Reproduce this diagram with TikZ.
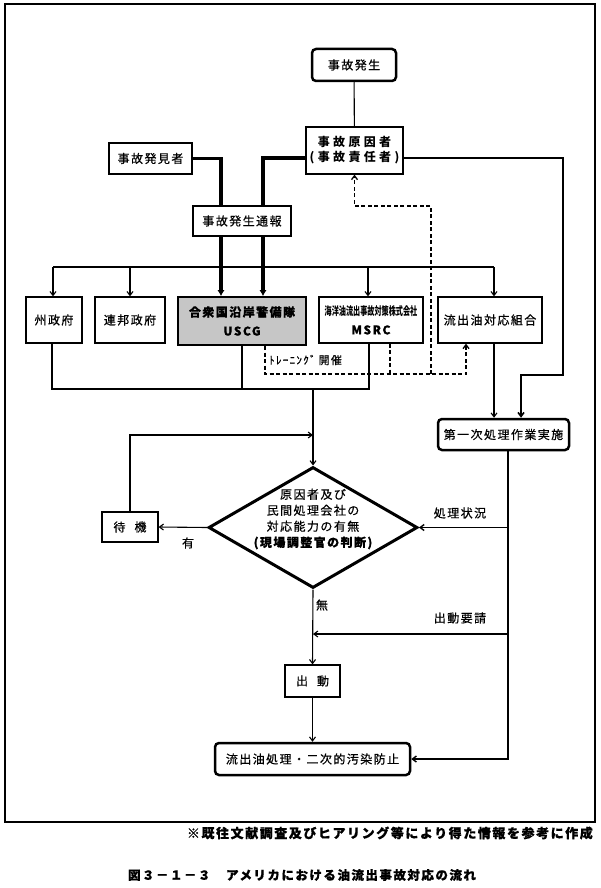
\documentclass[tikz,border=0pt]{standalone}
\usepackage{fontspec}
\usepackage{graphicx}
\setmainfont{Noto Sans CJK JP}
\newfontfamily\jp[LetterSpace=12,FakeBold=0.6]{Noto Sans CJK JP}
\newfontfamily\jpw[LetterSpace=28]{Noto Sans CJK JP}
\usetikzlibrary{arrows.meta,shapes.geometric,calc}
\pgfdeclarelayer{back}
\pgfdeclarelayer{edges}
\pgfsetlayers{back,edges,main}
\begin{document}
\begin{tikzpicture}[x=1pt,y=-1pt,
  box/.style={draw, line width=1.2pt, fill=white, inner sep=0pt, font=\jp\fontsize{12}{14}\selectfont},
  rbox/.style={box, rounded corners=4pt, line width=2.5pt},
  ln/.style={line width=1.1pt},
  arr/.style={ln, -{Straight Barb[length=4pt,width=6pt]}},
  thk/.style={line width=3.5pt, -{Latex[length=6pt,width=7.5pt]}},
  dsh/.style={line width=1.3pt, dash pattern=on 4pt off 2.5pt},
  lbl/.style={font=\jp\fontsize{12}{14}\selectfont, inner sep=0pt}]
\useasboundingbox (0,0) rectangle (600,888);
\begin{pgfonlayer}{back}
\fill[white] (0,0) rectangle (600,888);
\draw[line width=1.4pt] (5,4) rectangle (595,822);
\end{pgfonlayer}

% nodes
\node[rbox, minimum width=84pt, minimum height=32pt] (hassei) at (354,65) {事故発生};
\node[box, minimum width=97pt, minimum height=47pt, align=center, font=\jpw\bfseries\fontsize{12}{15}\selectfont] (genin) at (354.5,150.5) {事故原因者\\(事故責任者)};
\node[box, minimum width=83pt, minimum height=31pt] (hakken) at (150.5,158.5) {事故発見者};
\node[box, minimum width=98pt, minimum height=30pt] (tsuho) at (242,221) {事故発生通報};
\node[box, minimum width=56pt, minimum height=46pt] (shu) at (54,320) {州政府};
\node[box, minimum width=70pt, minimum height=46pt] (renpo) at (130,320) {連邦政府};
\node[box, fill=gray!45, line width=2pt, minimum width=128pt, minimum height=48pt, align=center, font=\jp\bfseries\fontsize{12}{19}\selectfont] (uscg) at (242,321) {合衆国沿岸警備隊\\USCG};
\node[box, minimum width=104pt, minimum height=46pt, align=center, font=\jp\bfseries\fontsize{12}{19}\selectfont] (msrc) at (371,320) {\scalebox{0.62}[1]{\setmainfont{Noto Sans CJK JP}\fontsize{11.5}{12}\selectfont\bfseries 海洋油流出事故対策株式会社}\\MSRC};
\node[box, minimum width=104pt, minimum height=46pt] (kumiai) at (490,320) {流出油対応組合};
\node[rbox, minimum width=131pt, minimum height=31pt] (daiichi) at (503.5,434.5) {第一次処理作業実施};
\node[draw, diamond, line width=3pt, minimum width=209pt, minimum height=121pt, inner sep=0pt] (dia) at (313,527.5) {};
\node[lbl, align=center, font=\jp\fontsize{12}{16}\selectfont] (diatext) at (313,519) {原因者及び\\民間処理会社の\\対応能力の有無\\{\bfseries (現場調整官の判断)}};
\node[box, minimum width=56pt, minimum height=30pt] (taiki) at (130,527) {待\hspace{9pt}機};
\node[box, minimum width=55pt, minimum height=32pt] (shutsudo) at (312.5,681) {出\hspace{9pt}動};
\node[rbox, minimum width=195pt, minimum height=32pt] (final) at (312.5,759) {流出油処理・二次的汚染防止};

% labels
\node[lbl] (yu) at (188,543) {有};
\node[lbl] (mu) at (322,605) {無};
\node[lbl] (jokyo) at (460,513) {処理状況};
\node[lbl] (yosei) at (460,618) {出動要請};
\node[lbl, anchor=west, font=\jp\fontsize{11}{13}\selectfont] (train) at (269,360) {ﾄﾚｰﾆﾝｸﾞ\hspace{3pt}開催};
\node[lbl, anchor=east, font=\jp\bfseries\fontsize{13}{14}\selectfont] (note) at (593,833) {※既往文献調査及びヒアリング等により得た情報を参考に作成};
\node[lbl, font=\jp\bfseries\fontsize{12.5}{14}\selectfont] (cap) at (302,875) {図３－１－３　アメリカにおける油流出事故対応の流れ};

% coordinates
\coordinate (dl) at (53,267);
\coordinate (dr) at (494,267);
\coordinate (r1) at (563,375);
\coordinate (m) at (313,389);
\coordinate (t1) at (313,435);
\coordinate (rv) at (508,0);
\coordinate (req) at (508,634);
\coordinate (tr) at (466,374);
\coordinate (dd) at (431,374);
\coordinate (du) at (431,206);

\begin{pgfonlayer}{edges}
\draw[ln] (hassei) -- (genin);
\draw[thk] (hakken.east) -| ([xshift=-21pt]uscg.north);
\draw[thk] ([yshift=-7.5pt]genin.west) -| ([xshift=21pt]uscg.north);
\draw[ln] (dl) -- (dr);
\draw[arr] (dl) -- (dl |- shu.north);
\draw[arr] (renpo.north |- dl) -- (renpo.north);
\draw[arr] ([xshift=-3pt]msrc.north |- dl) -- ([xshift=-3pt]msrc.north);
\draw[arr] (dr) -- (dr |- kumiai.north);
\draw[arr, line width=1.6pt] ([yshift=-7.5pt]genin.east) -| (r1) -| ([xshift=17.5pt]daiichi.north);
\draw[arr] ([xshift=4pt]kumiai.south) -- ([xshift=4pt]kumiai.south |- daiichi.north);
\draw[ln] ([xshift=-2pt]shu.south) |- (m);
\draw[ln] ([xshift=-2pt]msrc.south) |- (m);
\draw[ln] (uscg.south) -- (uscg.south |- m);
\draw[arr] (m) -- (dia.north);
\draw[arr] (taiki.north) |- (t1);
\draw[arr] (dia.west) -- (taiki.east);
\draw[ln, line width=1.4pt, -{Straight Barb[length=4pt,width=6pt]}] ([xshift=4.5pt]daiichi.south) |- (final.east);
\draw[arr, line width=1.4pt] (dia.east -| rv) -- (dia.east);
\draw[arr] (req) -- (req -| dia.south);
\draw[arr] (dia.south) -- (shutsudo.north);
\draw[arr] (shutsudo.south) -- (final.north);
\draw[dsh, -{Straight Barb[length=4pt,width=6pt]}] ([xshift=23pt]uscg.south) |- (tr) -- ([xshift=-24pt]kumiai.south);
\draw[dsh] ([xshift=19pt]msrc.south) -- ([xshift=19pt]msrc.south |- tr);
\draw[dsh, -{Straight Barb[length=4pt,width=6pt]}] (dd) -- (du) -| (genin.south);
\end{pgfonlayer}
\end{tikzpicture}
\end{document}
